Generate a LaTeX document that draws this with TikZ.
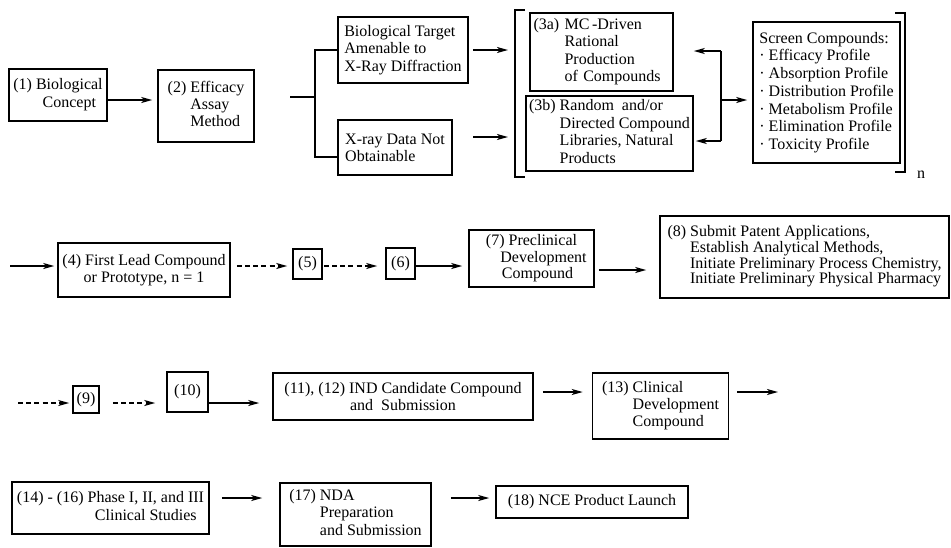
\documentclass[tikz,border=0pt]{standalone}
\usepackage{fontspec}
\setmainfont{Liberation Serif}
\usetikzlibrary{arrows.meta}

\tikzset{
  box/.style={draw, line width=0.8pt, inner sep=0pt, align=center},
  arr/.style={-{Stealth[length=5.5pt,width=3pt,inset=1.5pt]}, line width=0.75pt},
  dsh/.style={arr, dash pattern=on 2.5pt off 1.6pt},
  brk/.style={line width=0.75pt},
}
\newcommand{\hang}[1]{\begin{tabular}{@{}l@{ }l@{}}#1\end{tabular}}
\newcommand{\hangc}[1]{\begin{tabular}{@{}l@{ }c@{}}#1\end{tabular}}

\begin{document}
\begin{tikzpicture}[x=0.5pt,y=-0.5pt,font=\fontsize{8}{8.6}\selectfont]
    \useasboundingbox (0,0) rectangle (951,547);

    % row 1
    \node[box,minimum width=49pt,minimum height=26pt] (b1) at (58,95) {\hangc{(1)&Biological\\&Concept}};
    \node[box,minimum width=48pt,minimum height=36pt] (b2) at (206,106) {\hang{(2)&Efficacy\\&Assay\\&Method}};
    \coordinate (a1) at ([yshift=-2.5pt]b1.east);
    \draw[arr,shorten >=2.5pt] (a1) -- (a1 -| b2.west);

    \node[box,align=left,minimum width=65pt,minimum height=33pt] (bt) at (403,50) {Biological Target\\Amenable to\\X-Ray Diffraction};
    \node[box,align=left,minimum width=57pt,minimum height=27.5pt] (xr) at (395,147.5) {X-ray Data Not\\Obtainable};
    \coordinate (s0) at (290,97);
    \coordinate (s1) at (315,97);
    \coordinate (s2) at (315,157);
    \draw[brk] (s0) -- (s1);
    \draw[brk] (bt.west) -| (s2) -- (s2 -| xr.west);
    \coordinate (t1) at (508,50);
    \draw[arr,shorten <=2pt] (bt.east |- t1) -- (t1);
    \coordinate (x1) at (473,137);
    \coordinate (x2) at (508,137);
    \draw[arr] (x1) -- (x2);

    \draw[brk] (525,10) -- (515,10) -- (515,177) -- (525,177);
    \node[box,align=left,text width=68pt,minimum width=71.5pt,minimum height=39pt,font=\fontsize{8}{8.7}\selectfont] (b3a) at (601.5,52) {\hang{(3a)&MC\,-Driven\\&Rational\\&Production\\&of Compounds}};
    \node[box,align=left,minimum width=83.5pt,minimum height=37.5pt,font=\fontsize{8}{8.9}\selectfont] (b3b) at (609.5,133.5) {\hang{(3b)&Random\ \ and/or\\&Directed Compound\\&Libraries, Natural\\&Products}};

    \coordinate (dt) at (721,51);
    \coordinate (db) at (721,141);
    \coordinate (dm) at (721,100);
    \draw[brk] (dt) -- (db);
    \draw[arr] (dt) -- (dt -| b3b.east);
    \draw[arr,shorten >=1pt] (db) -- (db -| b3b.east);
    \node[box,align=left,minimum width=73.5pt,minimum height=70.5pt,font=\fontsize{8}{8.85}\selectfont] (scr) at (826.5,92.5) {Screen Compounds:\\· Efficacy Profile\\· Absorption Profile\\· Distribution Profile\\· Metabolism Profile\\· Elimination Profile\\· Toxicity Profile};
    \draw[arr,shorten >=2.5pt] (dm) -- (dm -| scr.west);
    \draw[brk] (895,13) -- (905,13) -- (905,172) -- (895,172);
    \node (nn) at (921,175) {n};

    % row 2
    \coordinate (r2) at (10,266);
    \coordinate (r2b) at (0,270);
    \node[box,minimum width=86pt,minimum height=27pt] (b4) at (144,270) {(4) First Lead Compound\\or Prototype, n = 1};
    \node[box,minimum width=14.5pt,minimum height=15pt] (b5) at (307.5,264) {(5)};
    \node[box,minimum width=14.5pt,minimum height=15.5pt] (b6) at (400.5,263.5) {(6)};
    \node[box,minimum width=62.5pt,minimum height=28.5pt,font=\fontsize{8}{8.3}\selectfont] (b7) at (531.5,258.5) {(7) Preclinical\\\hspace*{12pt}Development\\\hspace*{6pt}Compound};
    \node[box,minimum width=144.5pt,minimum height=41pt,font=\fontsize{8}{7.5}\selectfont] (b8) at (804.5,257) {\hang{(8)&Submit Patent Applications,\\&Establish Analytical Methods,\\&Initiate Preliminary Process Chemistry,\\&Initiate Preliminary Physical Pharmacy}};
    \draw[arr,shorten >=1.5pt] (r2) -- (r2 -| b4.west);
    \draw[dsh,shorten <=3pt,shorten >=2.5pt] (b4.east |- r2) -- (b5.west |- r2);
    \draw[dsh,shorten <=0.5pt,shorten >=4pt] (b5.east |- r2) -- (b6.west |- r2);
    \draw[arr,shorten >=3pt] (b6.east |- r2) -- (b7.west |- r2);
    \draw[arr,shorten <=2pt,shorten >=6.5pt] (b7.east |- r2b) -- (b8.west |- r2b);

    % row 3
    \coordinate (r3) at (18,403);
    \coordinate (r3b) at (0,392);
    \node[box,minimum width=13pt,minimum height=13.5pt] (b9) at (86,399.5) {(9)};
    \node[box,minimum width=20.5pt,minimum height=20pt] (b10) at (187.5,392) {(10)};
    \node[box,minimum width=130pt,minimum height=23.5pt] (b11) at (403,396.5) {(11), (12) IND Candidate Compound\\and\ \ Submission};
    \node[box,minimum width=68pt,minimum height=33pt] (b13) at (660.5,406) {\hang{(13)&Clinical\\&Development\\&Compound}};
    \coordinate (e13) at (778,392);
    \draw[dsh,shorten >=1.5pt] (r3) -- (r3 -| b9.west);
    \draw[dsh,shorten <=6.5pt,shorten >=5.5pt] (b9.east |- r3) -- (b10.west |- r3);
    \draw[arr,shorten >=6.5pt] (b10.east |- r3) -- (b11.west |- r3);
    \draw[arr,shorten <=4.5pt,shorten >=4.5pt] (b11.east |- r3b) -- (b13.west |- r3b);
    \draw[arr,shorten <=4pt] (b13.east |- r3b) -- (e13);

    % row 4
    \coordinate (r4) at (0,498);
    \node[box,minimum width=98.5pt,minimum height=26pt] (b14) at (110.5,508) {\hangc{(14) - (16)&Phase I, II, and III\\&Clinical Studies}};
    \node[box,minimum width=75.5pt,minimum height=31.5pt] (b17) at (355.5,514.5) {\hang{(17)&NDA\\&Preparation\\&and Submission}};
    \node[box,minimum width=96pt,minimum height=16pt] (b18) at (592,502) {(18) NCE Product Launch};
    \draw[arr,shorten <=6pt,shorten >=8.5pt] (b14.east |- r4) -- (b17.west |- r4);
    \draw[arr,shorten <=9.5pt,shorten >=3pt] (b17.east |- r4) -- (b18.west |- r4);
\end{tikzpicture}
\end{document}
